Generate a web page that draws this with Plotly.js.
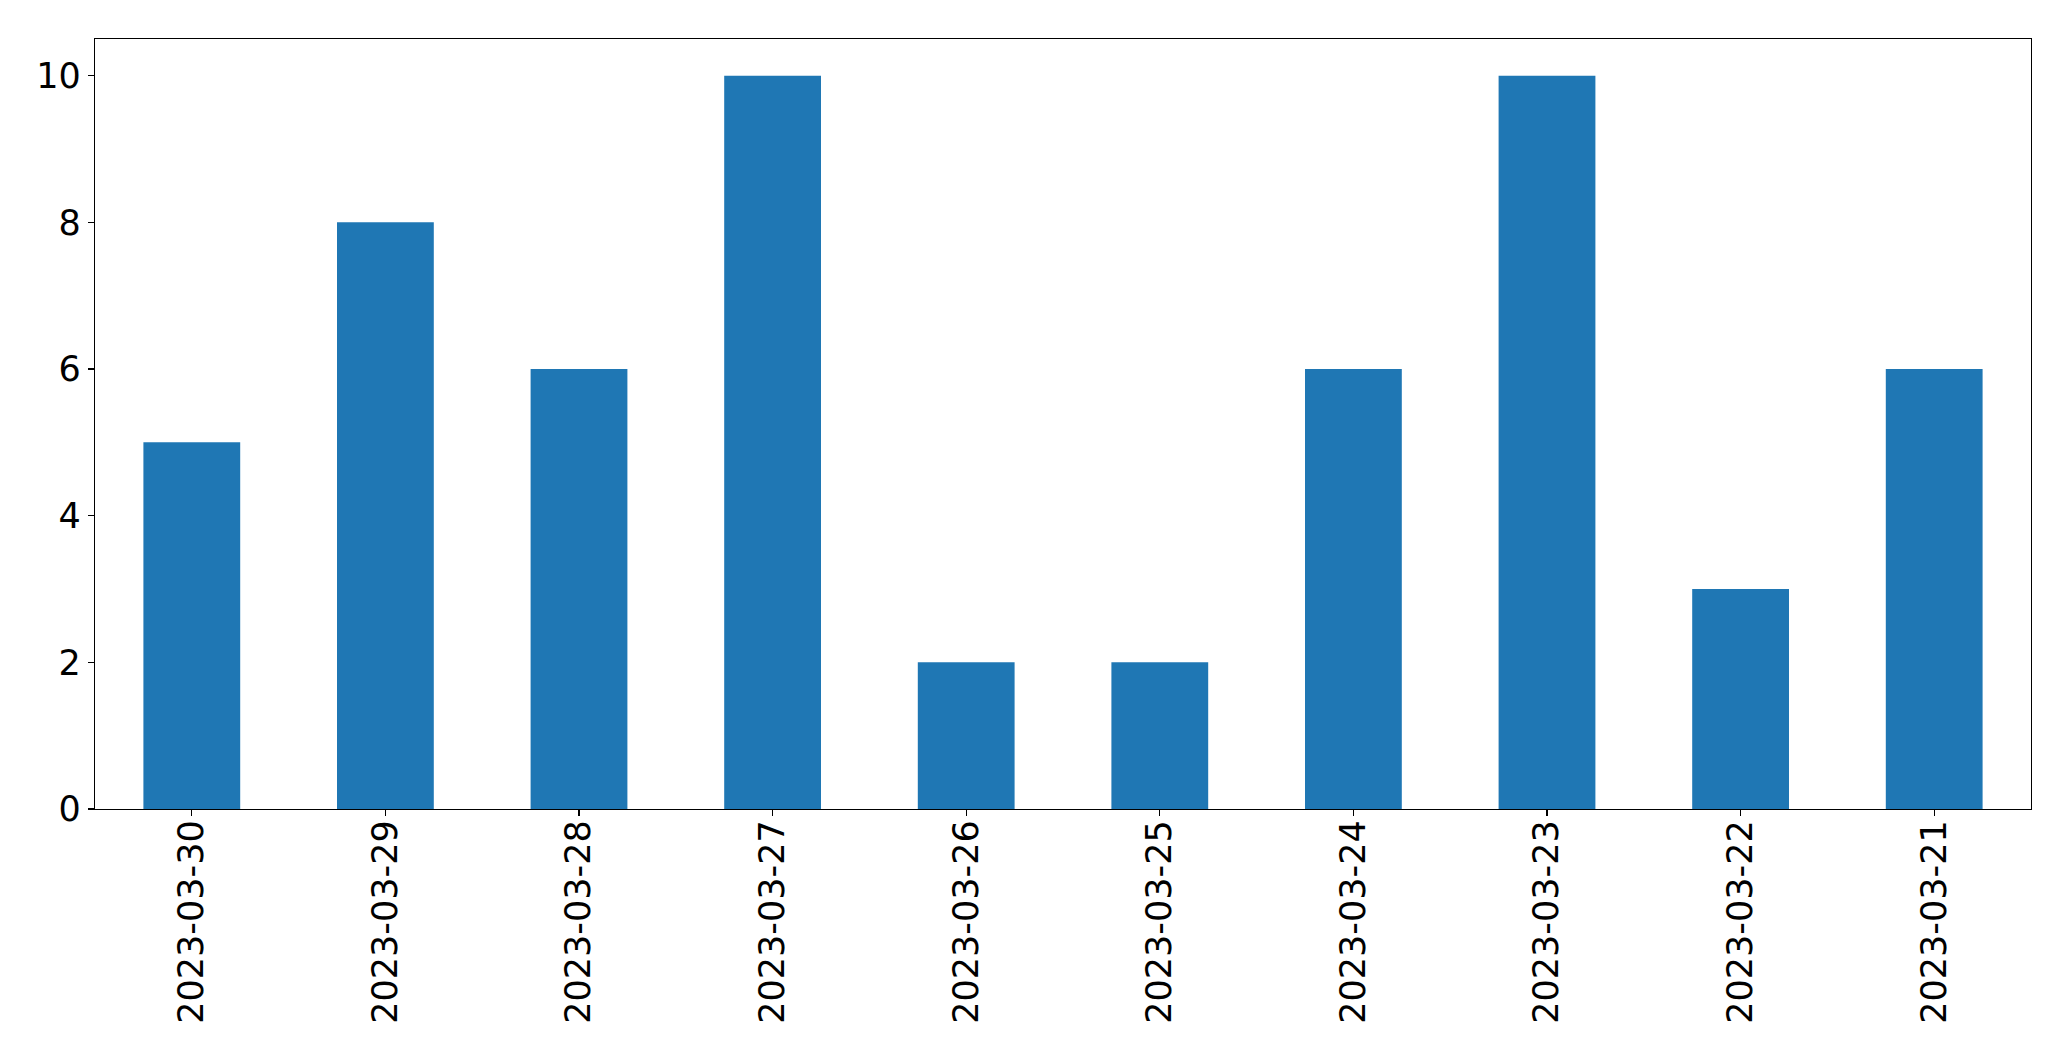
<!DOCTYPE html>
<html>
<head>
<meta charset="utf-8">
<script src="https://cdn.plot.ly/plotly-3.0.1.min.js"></script>
<style>html,body{margin:0;padding:0;background:#fff;}#chart{width:2071px;height:1061px;}</style>
</head>
<body>
<div id="chart"></div>
<script>
const categories = ["2023-03-30","2023-03-29","2023-03-28","2023-03-27","2023-03-26","2023-03-25","2023-03-24","2023-03-23","2023-03-22","2023-03-21"];
const values = [5, 8, 6, 10, 2, 2, 6, 10, 3, 6];
const yTicks = [0, 2, 4, 6, 8, 10];

const trace = {
  type: 'bar',
  x: categories,
  y: values,
  marker: {color: '#1f77b4', line: {width: 0}},
  hoverinfo: 'x+y'
};

const layout = {
  width: 2071,
  height: 1061,
  margin: {l: 95, r: 40, t: 39, b: 252, pad: 0},
  paper_bgcolor: '#ffffff',
  plot_bgcolor: '#ffffff',
  bargap: 0.5,
  showlegend: false,
  font: {family: 'DejaVu Sans, sans-serif', size: 35, color: '#000000'},
  xaxis: {
    type: 'category',
    range: [-0.5, 9.5],
    tickangle: -90,
    ticks: 'outside',
    ticklen: 6,
    tickwidth: 1.3,
    tickcolor: '#000',
    showline: true,
    linecolor: '#000',
    linewidth: 1.3,
    mirror: true,
    showgrid: false,
    zeroline: false,
    ticklabelstandoff: -10,
    tickfont: {family: 'DejaVu Sans, sans-serif', size: 35, color: '#000'}
  },
  yaxis: {
    range: [0, 10.5],
    tickvals: yTicks,
    ticktext: yTicks.map(String),
    ticks: 'outside',
    ticklen: 6,
    tickwidth: 1.3,
    tickcolor: '#000',
    showline: true,
    linecolor: '#000',
    linewidth: 1.3,
    mirror: true,
    showgrid: false,
    zeroline: false,
    tickfont: {family: 'DejaVu Sans, sans-serif', size: 35, color: '#000'}
  }
};

Plotly.newPlot('chart', [trace], layout, {displayModeBar: false, staticPlot: true});
</script>
</body>
</html>
